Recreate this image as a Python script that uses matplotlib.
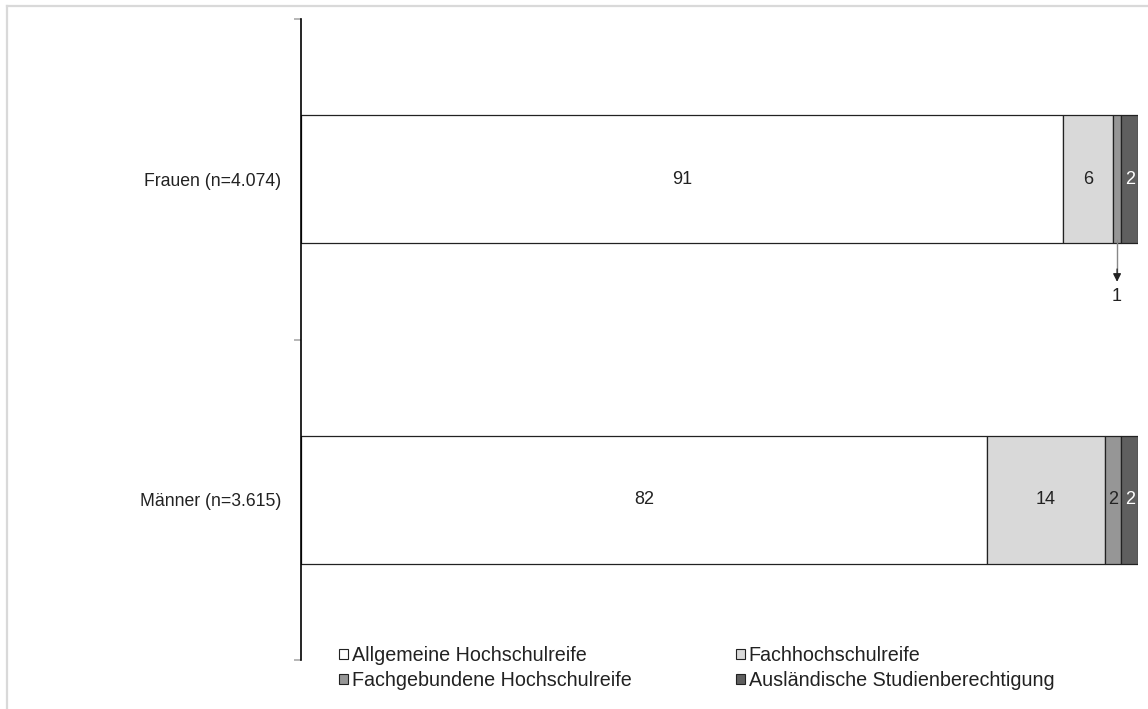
import matplotlib.pyplot as plt
from matplotlib.patches import Patch
from matplotlib.lines import Line2D
import numpy as np

plt.rcParams['font.family'] = ['Liberation Sans', 'DejaVu Sans']
fs_achse, fs_wert, fs_leg = 12.7, 13, 14.2

# Anteile je Hochschulzugangsberechtigung (in %)
gruppen = ['Männer (n=3.615)', 'Frauen (n=4.074)']
kategorien = ['Allgemeine Hochschulreife', 'Fachhochschulreife',
              'Fachgebundene Hochschulreife', 'Ausländische Studienberechtigung']
allgemein = [82, 91]
fachhoch = [14, 6]
fachgebunden = [2, 1]
auslaendisch = [2, 2]

farben = ['#ffffff', '#d9d9d9', '#969696', '#5f5f5f']
textfarben = ['#222222', '#222222', '#222222', '#ffffff']

fig = plt.figure(figsize=(11.48, 7.09), dpi=100)
ax = fig.add_axes([301 / 1148, 1 - 660 / 709, 837 / 1148, 641 / 709])

y = np.array([0.5, 1.5])
werte = [allgemein, fachhoch, fachgebunden, auslaendisch]
links = np.zeros(len(gruppen))
for serie, farbe, tf in zip(werte, farben, textfarben):
    serie = np.array(serie, dtype=float)
    ax.barh(y, serie, left=links, height=0.4, color=farbe,
            edgecolor='#222222', linewidth=0.9)
    for yi, l, v in zip(y, links, serie):
        # kleine Segmente (1 %) werden extern beschriftet
        if v >= 2:
            ax.text(l + v / 2, yi, f'{v:.0f}', ha='center', va='center',
                    fontsize=fs_wert, color=tf)
    links += serie

# Pfeil für das schmale Segment bei den Frauen
x1 = allgemein[1] + fachhoch[1] + fachgebunden[1] / 2
ax.plot([x1, x1], [1.31, 1.20], color='#888888', lw=1.0)
ax.annotate('', xy=(x1, 1.18), xytext=(x1, 1.22),
            arrowprops=dict(arrowstyle='-|>', color='#222222', lw=0.9,
                            mutation_scale=12, shrinkA=0, shrinkB=0))
ax.text(x1, 1.133, f'{fachgebunden[1]}', ha='center', va='center',
        fontsize=fs_wert, color='#222222')

ax.set_xlim(0, 100)
ax.set_ylim(0, 2)
for s in ['top', 'right', 'bottom']:
    ax.spines[s].set_visible(False)
ax.spines['left'].set_linewidth(1.2)
ax.spines['left'].set_color('black')
ax.set_xticks([])
ax.set_yticks([0, 1, 2])
ax.set_yticklabels([])
ax.tick_params(axis='y', which='major', length=5, color='#aaaaaa', width=1.2)
ax.set_yticks(y, minor=True)
ax.set_yticklabels(gruppen, minor=True, fontsize=fs_achse, color='#222222')
ax.tick_params(axis='y', which='minor', length=0, pad=14)

# Legende: Reihenfolge so, dass die Zeilen spaltenweise passen
handles = [Patch(facecolor=f, edgecolor='#222222', linewidth=0.8) for f in farben]
reihenfolge = [0, 2, 1, 3]
fig.legend([handles[i] for i in reihenfolge], [kategorien[i] for i in reihenfolge],
           ncol=2, loc='upper left', bbox_to_anchor=(339 / 1148, 1 - 646 / 709),
           frameon=False, fontsize=fs_leg, handlelength=0.46, handleheight=0.46,
           handletextpad=0.18, columnspacing=5.3, labelspacing=0.3,
           borderpad=0, borderaxespad=0, labelcolor='#222222')

# heller Rahmen links und oben
fig.add_artist(Line2D([7 / 1148, 7 / 1148], [0, 1 - 6 / 709],
                      color='#d9d9d9', lw=1.6, transform=fig.transFigure))
fig.add_artist(Line2D([7 / 1148, 1], [1 - 6 / 709, 1 - 6 / 709],
                      color='#d9d9d9', lw=1.6, transform=fig.transFigure))

fig.savefig('out.png', dpi=100)
